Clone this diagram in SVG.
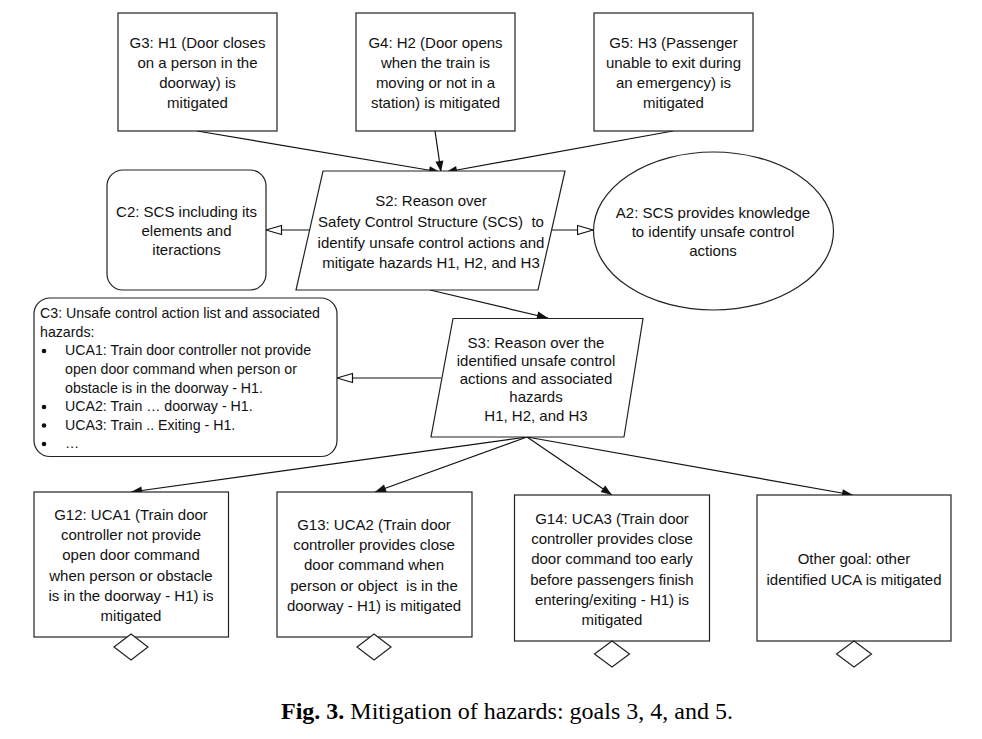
<svg xmlns="http://www.w3.org/2000/svg" width="982" height="739" viewBox="0 0 982 739">
<style>
.n{fill:#fff;stroke:#222;stroke-width:1.2}
.t{font-family:"Liberation Sans",Arial,sans-serif;font-size:15px;fill:#111;text-anchor:middle;dominant-baseline:central;white-space:pre}
.l{font-family:"Liberation Sans",Arial,sans-serif;font-size:14.2px;fill:#111;dominant-baseline:central}
.c{stroke:#111;stroke-width:1.2;fill:none}
.cap{font-family:"Liberation Serif","Times New Roman",serif;font-size:24px;fill:#000}
</style>
<defs>
<marker id="fa" markerUnits="userSpaceOnUse" markerWidth="13" markerHeight="10" refX="12" refY="5" orient="auto">
<path d="M1,1 L12,5 L1,9 Z" fill="#111"/>
</marker>
<marker id="ha" markerUnits="userSpaceOnUse" markerWidth="18" markerHeight="12" refX="16.5" refY="6" orient="auto">
<path d="M1,1.5 L16.5,6 L1,10.5 Z" fill="#fff" stroke="#111" stroke-width="1.2"/>
</marker>
</defs>
<rect width="982" height="739" fill="#fff"/>
<g id="connectors">
<line class="c" x1="197" y1="131" x2="440" y2="172" marker-end="url(#fa)"/>
<line class="c" x1="435" y1="131" x2="441" y2="172" marker-end="url(#fa)"/>
<line class="c" x1="673" y1="131" x2="446" y2="172" marker-end="url(#fa)"/>
<line class="c" x1="310" y1="230" x2="266" y2="230" marker-end="url(#ha)"/>
<line class="c" x1="552" y1="230" x2="593" y2="230" marker-end="url(#ha)"/>
<line class="c" x1="430" y1="290" x2="548" y2="318" marker-end="url(#fa)"/>
<line class="c" x1="441" y1="378" x2="337" y2="378" marker-end="url(#ha)"/>
<line class="c" x1="527" y1="437" x2="131" y2="492" marker-end="url(#fa)"/>
<line class="c" x1="527" y1="437" x2="375" y2="492" marker-end="url(#fa)"/>
<line class="c" x1="527" y1="437" x2="612" y2="495" marker-end="url(#fa)"/>
<line class="c" x1="527" y1="437" x2="853" y2="495" marker-end="url(#fa)"/>
</g>
<g id="G3">
<rect class="n" x="118" y="13" width="159" height="118"/>
<text class="t"><tspan x="197.5" y="42">G3: H1 (Door closes</tspan><tspan x="197.5" y="62">on a person in the</tspan><tspan x="197.5" y="82">doorway) is</tspan><tspan x="197.5" y="102">mitigated</tspan></text>
</g>
<g id="G4">
<rect class="n" x="356" y="13" width="159" height="118"/>
<text class="t"><tspan x="435.5" y="42">G4: H2 (Door opens</tspan><tspan x="435.5" y="62">when the train is</tspan><tspan x="435.5" y="82">moving or not in a</tspan><tspan x="435.5" y="102">station) is mitigated</tspan></text>
</g>
<g id="G5">
<rect class="n" x="594" y="13" width="159" height="118"/>
<text class="t"><tspan x="673.5" y="42">G5: H3 (Passenger</tspan><tspan x="673.5" y="62">unable to exit during</tspan><tspan x="673.5" y="82">an emergency) is</tspan><tspan x="673.5" y="102">mitigated</tspan></text>
</g>
<g id="C2">
<rect class="n" x="107" y="170" width="159" height="120" rx="16"/>
<text class="t"><tspan x="186.5" y="211">C2: SCS including its</tspan><tspan x="186.5" y="230">elements and</tspan><tspan x="186.5" y="249">iteractions</tspan></text>
</g>
<g id="S2">
<polygon class="n" points="323,171 565,171 538,290 296,290"/>
<text class="t"><tspan x="431" y="200">S2: Reason over</tspan><tspan x="431" y="221">Safety Control Structure (SCS)  to</tspan><tspan x="431" y="241.5">identify unsafe control actions and</tspan><tspan x="431" y="261.5">mitigate hazards H1, H2, and H3</tspan></text>
</g>
<g id="A2">
<ellipse class="n" cx="713.5" cy="231" rx="120" ry="79"/>
<text class="t"><tspan x="713" y="211.5">A2: SCS provides knowledge</tspan><tspan x="713" y="230.5">to identify unsafe control</tspan><tspan x="713" y="250">actions</tspan></text>
</g>
<g id="C3">
<rect class="n" x="34" y="298" width="303" height="158.5" rx="16"/>
<text class="l"><tspan x="40" y="313">C3: Unsafe control action list and associated</tspan><tspan x="40" y="331.5">hazards:</tspan><tspan x="65" y="350">UCA1: Train door controller not provide</tspan><tspan x="65" y="369">open door command when person or</tspan><tspan x="65" y="387.5">obstacle is in the doorway - H1.</tspan><tspan x="65" y="406">UCA2: Train … doorway - H1.</tspan><tspan x="65" y="424.5">UCA3: Train .. Exiting - H1.</tspan><tspan x="65" y="443">…</tspan></text>
<circle cx="44" cy="351" r="2.3" fill="#111"/>
<circle cx="44" cy="407" r="2.3" fill="#111"/>
<circle cx="44" cy="425.5" r="2.3" fill="#111"/>
<circle cx="44" cy="444" r="2.3" fill="#111"/>
</g>
<g id="S3">
<polygon class="n" points="453,318.5 643,318.5 624,437 431,437"/>
<text class="t"><tspan x="536" y="342">S3: Reason over the</tspan><tspan x="536" y="360">identified unsafe control</tspan><tspan x="536" y="378">actions and associated</tspan><tspan x="536" y="395.5">hazards</tspan><tspan x="536" y="415">H1, H2, and H3</tspan></text>
</g>
<g id="G12">
<rect class="n" x="34" y="492" width="194.5" height="145"/>
<text class="t"><tspan x="131" y="513.5">G12: UCA1 (Train door</tspan><tspan x="131" y="533.5">controller not provide</tspan><tspan x="131" y="554">open door command</tspan><tspan x="131" y="574.5">when person or obstacle</tspan><tspan x="131" y="594.5">is in the doorway - H1) is</tspan><tspan x="131" y="615">mitigated</tspan></text>
<polygon class="n" points="131,634 148,647 131,660 114,647"/>
</g>
<g id="G13">
<rect class="n" x="277" y="492" width="195" height="145"/>
<text class="t"><tspan x="374" y="523.5">G13: UCA2 (Train door</tspan><tspan x="374" y="543.5">controller provides close</tspan><tspan x="374" y="564">door command when</tspan><tspan x="374" y="585">person or object  is in the</tspan><tspan x="374" y="605">doorway - H1) is mitigated</tspan></text>
<polygon class="n" points="374,634 391,647 374,660 357,647"/>
</g>
<g id="G14">
<rect class="n" x="514.5" y="495" width="195" height="146"/>
<text class="t"><tspan x="612" y="517.5">G14: UCA3 (Train door</tspan><tspan x="612" y="537.5">controller provides close</tspan><tspan x="612" y="558">door command too early</tspan><tspan x="612" y="578.5">before passengers finish</tspan><tspan x="612" y="598.5">entering/exiting - H1) is</tspan><tspan x="612" y="618.5">mitigated</tspan></text>
<polygon class="n" points="612,641 629.5,654 612,667 594.5,654"/>
</g>
<g id="Other">
<rect class="n" x="757" y="495" width="194" height="146"/>
<text class="t"><tspan x="854" y="558">Other goal: other</tspan><tspan x="854" y="578.5">identified UCA is mitigated</tspan></text>
<polygon class="n" points="854,641 871.5,654 854,667 836.5,654"/>
</g>
<text class="cap" x="281" y="719"><tspan font-weight="bold">Fig. 3.</tspan> Mitigation of hazards: goals 3, 4, and 5.</text>
</svg>
